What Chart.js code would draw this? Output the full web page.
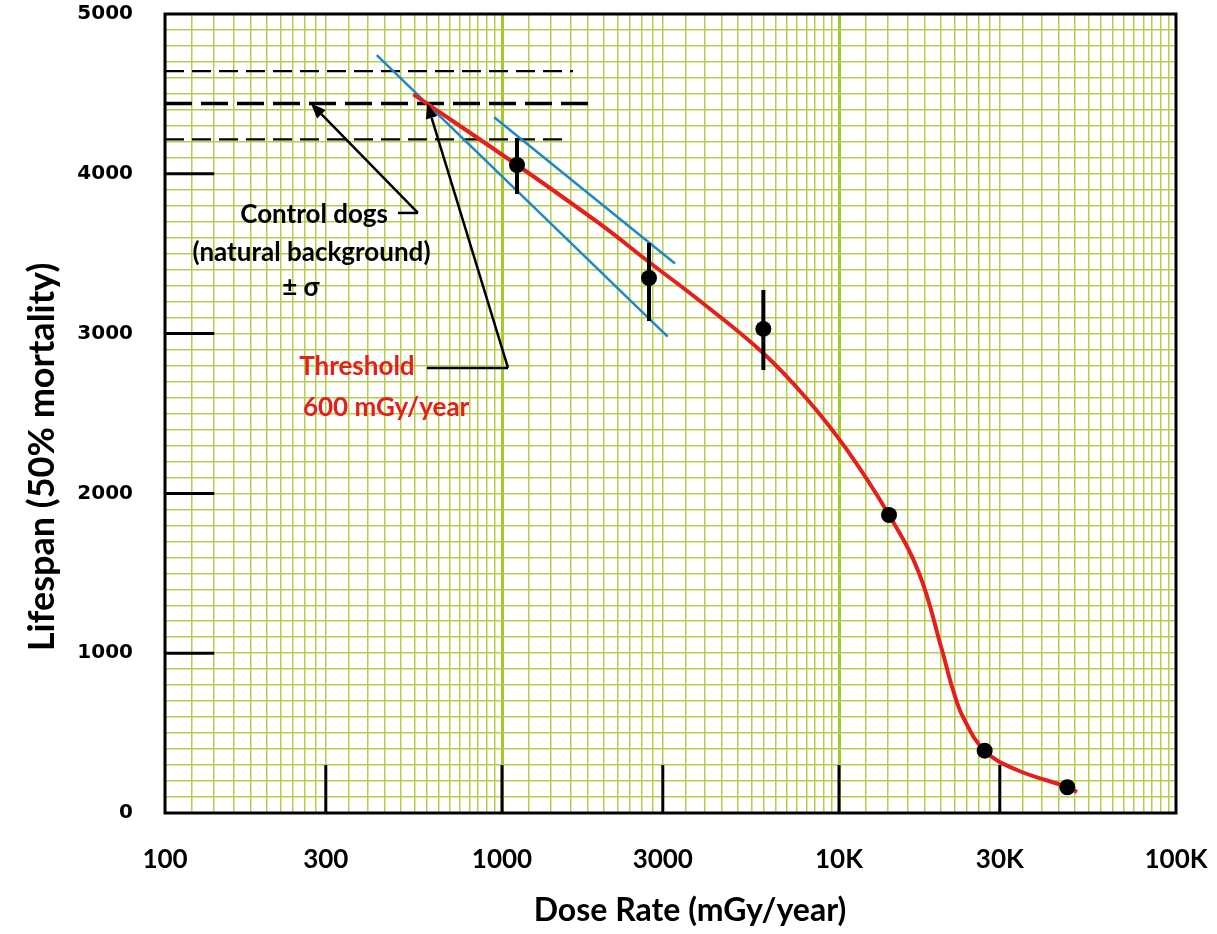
<!DOCTYPE html>
<html lang="en">
<head>
  <meta charset="UTF-8">
  <title>Lifespan vs dose rate</title>
  <style>
    html, body { margin: 0; padding: 0; background: #fff; }
    .container { width: 1217px; height: 934px; position: relative; }
  </style>
  <script src="https://cdn.jsdelivr.net/npm/chart.js@4.4.1/dist/chart.umd.min.js"></script>
</head>
<body>

  <div class="container">
    <canvas id="myChart"></canvas>
  </div>

  <script>
    // Axis labels
    const xTickValues = [100, 300, 1000, 3000, 10000, 30000, 100000];
    const xTickText = ["100", "300", "1000", "3000", "10K", "30K", "100K"];
    const yTickValues = [0, 1000, 2000, 3000, 4000, 5000];

    // Dog data: dose rate (mGy/year) and lifespan (50% mortality)
    const doseRate = [1108, 2730, 5964, 14074, 27055, 47583];
    const lifespan = [4055, 3348, 3029, 1865, 390, 161];
    const sigmaLow = [3874, 3079, 2772];
    const sigmaHigh = [4224, 3567, 3273];

    // Red curve
    const curveDose = [546, 1108, 1953, 2730, 3868, 5951, 8035, 10561, 14074, 17275, 20212, 21797, 23335, 27055, 33748, 47583, 50850];
    const curveLife = [4497, 4055, 3686, 3448, 3204, 2879, 2591, 2272, 1865, 1502, 1020, 770, 601, 390, 269, 163, 131];

    // Blue lines
    const blueLowDose = [425, 3102];
    const blueLowLife = [4743, 2981];
    const blueHighDose = [948, 3260];
    const blueHighLife = [4354, 3439];

    // Control dogs (natural background) +/- sigma
    const controlLife = [4643, 4440, 4215];
    const controlEnd = [1624, 1913, 1560];

    // Black ticks inside the frame
    const leftTicks = [1000, 2000, 3000, 4000];
    const bottomTicks = [300, 1000, 3000, 10000, 30000];

    // graph paper lines
    const xGrid = [];
    [100, 1000, 10000].forEach(d => {
      for (let k = 10; k < 30; k += 2) xGrid.push(d * k / 10);
      for (let k = 30; k < 100; k += 5) xGrid.push(d * k / 10);
    });
    xGrid.push(100000);
    const yGrid = [];
    for (let v = 0; v <= 5000; v += 100) yGrid.push(v);

    const seg = (xs, ys) => xs.map((v, i) => ({ x: v, y: ys[i] }));
    const datasets = [];

    datasets.push({
      data: seg(doseRate, lifespan),
      pointRadius: 8, pointHoverRadius: 8,
      backgroundColor: "#000", borderWidth: 0, order: 0
    });
    datasets.push({
      data: seg(curveDose, curveLife), showLine: true, pointRadius: 0,
      borderColor: "#e3201b", borderWidth: 4, tension: 0.4, order: 1
    });
    sigmaLow.forEach((lo, i) => {
      datasets.push({
        data: [{ x: doseRate[i], y: lo }, { x: doseRate[i], y: sigmaHigh[i] }],
        showLine: true, pointRadius: 0, borderColor: "#000", borderWidth: 4, order: 0
      });
    });
    datasets.push({
      data: seg(blueLowDose, blueLowLife), showLine: true, pointRadius: 0,
      borderColor: "#1f87c9", borderWidth: 2.5, order: 2
    });
    datasets.push({
      data: seg(blueHighDose, blueHighLife), showLine: true, pointRadius: 0,
      borderColor: "#1f87c9", borderWidth: 2.5, order: 2
    });
    controlLife.forEach((v, i) => {
      const mid = i === 1;
      datasets.push({
        data: [{ x: 100, y: v }, { x: controlEnd[i], y: v }],
        showLine: true, pointRadius: 0, borderColor: "#000",
        borderWidth: mid ? 3.5 : 2.2, borderDash: mid ? [27, 9] : [19, 8], order: 3
      });
    });
    leftTicks.forEach(v => {
      datasets.push({
        data: [{ x: 100, y: v }, { x: 140, y: v }],
        showLine: true, pointRadius: 0, borderColor: "#000", borderWidth: 3, order: 3
      });
    });
    bottomTicks.forEach(v => {
      datasets.push({
        data: [{ x: v, y: 0 }, { x: v, y: 300 }],
        showLine: true, pointRadius: 0, borderColor: "#000", borderWidth: 3, order: 3
      });
    });

    function arrow(ctx, x1, y1, x2, y2) {
      const ang = Math.atan2(y2 - y1, x2 - x1);
      const len = 15, w = 6;
      const bx = x2 - len * Math.cos(ang), by = y2 - len * Math.sin(ang);
      ctx.beginPath();
      ctx.moveTo(x1, y1);
      ctx.lineTo(bx, by);
      ctx.stroke();
      ctx.beginPath();
      ctx.moveTo(x2, y2);
      ctx.lineTo(bx + w * Math.sin(ang), by - w * Math.cos(ang));
      ctx.lineTo(bx - w * Math.sin(ang), by + w * Math.cos(ang));
      ctx.closePath();
      ctx.fill();
    }

    // arrows, notes, frame and axis titles
    const notes = {
      id: "notes",
      afterDatasetsDraw(chart) {
        const { ctx, scales: { x, y } } = chart;
        const px = v => x.getPixelForValue(v);
        const py = v => y.getPixelForValue(v);
        ctx.save();
        ctx.strokeStyle = "#000";
        ctx.fillStyle = "#000";
        ctx.lineWidth = 2.5;
        // control dogs arrow
        ctx.beginPath();
        ctx.moveTo(px(491), py(3755));
        ctx.lineTo(px(563), py(3755));
        ctx.stroke();
        arrow(ctx, px(563), py(3755), px(271), py(4440));
        // threshold arrow
        ctx.beginPath();
        ctx.moveTo(px(599), py(2785));
        ctx.lineTo(px(1042), py(2785));
        ctx.stroke();
        arrow(ctx, px(1042), py(2785), px(600), py(4440));

        ctx.textAlign = "center";
        ctx.textBaseline = "middle";
        ctx.font = "bold 26px Lato";
        ctx.fillText("Control dogs", px(277), py(3742));
        ctx.fillText("(natural background)", px(272), py(3504));
        ctx.fillText("± σ", px(253), py(3285));
        ctx.fillStyle = "#e3201b";
        ctx.fillText("Threshold", px(371), py(2791));
        ctx.fillText("600 mGy/year", px(453), py(2534));
        ctx.restore();
      },
      afterDraw(chart) {
        const { ctx, chartArea: a } = chart;
        ctx.save();
        ctx.strokeStyle = "#000";
        ctx.lineWidth = 3;
        ctx.strokeRect(a.left, a.top, a.right - a.left, a.bottom - a.top);
        ctx.fillStyle = "#000";
        ctx.textAlign = "center";
        ctx.textBaseline = "middle";
        ctx.font = "bold 32px Lato";
        ctx.fillText("Dose Rate (mGy/year)", 690, 911);
        ctx.font = "bold 36px Lato";
        ctx.translate(42, 457);
        ctx.rotate(-Math.PI / 2);
        ctx.fillText("Lifespan (50% mortality)", 0, 0);
        ctx.restore();
      }
    };

    new Chart(document.getElementById("myChart"), {
      type: "scatter",
      data: { datasets: datasets },
      options: {
        responsive: true,
        maintainAspectRatio: false,
        animation: false,
        layout: { padding: { top: 14, right: 41, left: 0, bottom: 0 } },
        plugins: { legend: { display: false }, tooltip: { enabled: false } },
        scales: {
          x: {
            type: "logarithmic",
            min: 100,
            max: 100000,
            afterBuildTicks: s => { s.ticks = xGrid.map(v => ({ value: v })); },
            afterFit: s => {
              s.height = 121;
              s.paddingLeft = 0; s.paddingRight = 0;
            },
            border: { display: false },
            grid: {
              drawTicks: false,
              color: c => (c.tick && (c.tick.value === 1000 || c.tick.value === 10000)) ? "#a2cc22" : "#b7cc4e",
              lineWidth: c => (c.tick && (c.tick.value === 1000 || c.tick.value === 10000)) ? 3 : 1.5
            },
            ticks: {
              autoSkip: false,
              maxRotation: 0,
              padding: 31,
              color: "#000",
              font: { family: "Lato", weight: "bold", size: 26 },
              callback: v => {
                const i = xTickValues.indexOf(v);
                return i >= 0 ? xTickText[i] : "";
              }
            }
          },
          y: {
            type: "linear",
            min: 0,
            max: 5000,
            afterBuildTicks: s => { s.ticks = yGrid.map(v => ({ value: v })); },
            afterFit: s => {
              s.width = 165;
              s.paddingTop = 0; s.paddingBottom = 0;
            },
            border: { display: false },
            grid: { drawTicks: false, color: "#b7cc4e", lineWidth: 1.5 },
            ticks: {
              autoSkip: false,
              padding: 32,
              color: "#000",
              font: { family: "DejaVu Sans", weight: "bold", size: 20 },
              callback: v => (yTickValues.includes(v) ? v : "")
            }
          }
        }
      },
      plugins: [notes]
    });
  </script>

</body>
</html>
